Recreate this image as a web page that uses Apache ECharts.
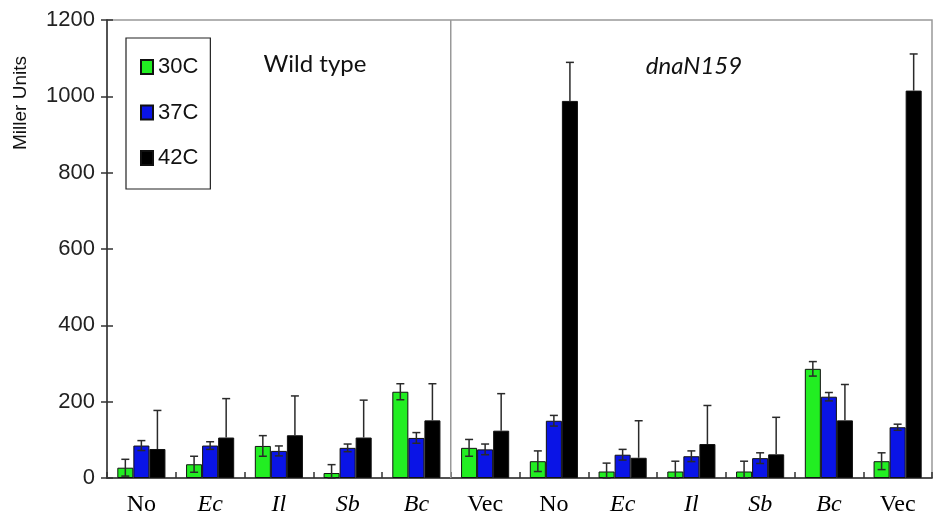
<!DOCTYPE html>
<html>
<head>
<meta charset="utf-8">
<script src="https://cdn.jsdelivr.net/npm/echarts@6/dist/echarts.min.js"></script>
<style>html,body{margin:0;padding:0;background:#fff;}#c{width:938px;height:525px;}</style>
</head>
<body>
<div id="c"></div>
<script>
// ---- data ----
var categories = ['WT-No','WT-Ec','WT-Il','WT-Sb','WT-Bc','M-Vec','M-No','M-Ec','M-Il','M-Sb','M-Bc','M-Vec2'];
var tickLabels = ['No','Ec','Il','Sb','Bc','Vec','No','Ec','Il','Sb','Bc','Vec'];
var italicLabels = [false,true,true,true,true,false,false,true,true,true,true,false];
var seriesNames = ['30C','37C','42C'];
var values30 = [27, 36, 84, 13, 226, 79, 44, 17, 17, 17, 286, 44];
var err30    = [22, 21, 27, 22, 21, 22, 27, 22, 27, 27, 19, 22];
var values37 = [85, 85, 71, 79, 105, 75, 150, 61, 57, 52, 213, 133];
var err37    = [13, 10, 13, 10, 14, 14, 14, 14, 14, 14, 11, 8];
var values42 = [76, 106, 112, 106, 151, 124, 988, 53, 89, 62, 151, 1015];
var err42    = [101, 102, 103, 98, 96, 97, 101, 97, 101, 97, 94, 96];
var yTicks = [0, 200, 400, 600, 800, 1000, 1200];
var panelSplitIndex = [5]; // first category of the dnaN159 panel

var colors = ['#22ee22', '#0a14e6', '#000000'];
var allVals = [values30, values37, values42];
var allErrs = [err30, err37, err42];

var chart = echarts.init(document.getElementById('c'), null, {renderer: 'canvas'});

var barSeries = seriesNames.map(function (n, s) {
  return {
    name: n, type: 'bar', data: allVals[s], barGap: '0%', barCategoryGap: '30%',
    itemStyle: {color: colors[s], borderColor: '#111', borderWidth: 1},
    z: 2
  };
});

function errSeries(s) {
  var data = allVals[s].map(function (v, i) {
    var e = allErrs[s][i];
    var lo = s === 2 ? v : Math.max(0, v - e);
    return [i, lo, v + e];
  });
  return {
    type: 'custom', name: 'err' + s, data: data, z: 5, silent: true,
    encode: {x: 0, y: [1, 2]},
    renderItem: function (params, api) {
      var i = api.value(0);
      var band = api.size([1, 0])[0];
      var bw = band * 0.7 / 3;
      var cx = api.coord([i, 0])[0] + (s - 1) * bw;
      var pLo = api.coord([i, api.value(1)])[1];
      var pHi = api.coord([i, api.value(2)])[1];
      var cap = 4;
      var st = {stroke: '#2a2a2a', lineWidth: 1.5};
      var ch = [
        {type: 'line', shape: {x1: cx, y1: pLo, x2: cx, y2: pHi}, style: st},
        {type: 'line', shape: {x1: cx - cap, y1: pHi, x2: cx + cap, y2: pHi}, style: st}
      ];
      if (s !== 2) {
        ch.push({type: 'line', shape: {x1: cx - cap, y1: pLo, x2: cx + cap, y2: pLo}, style: st});
      }
      return {type: 'group', children: ch};
    }
  };
}

var splitSeries = {
  type: 'custom', name: 'split', data: panelSplitIndex.map(function (i) { return [i, yTicks[0], yTicks[yTicks.length - 1]]; }),
  z: 1, silent: true, encode: {x: 0, y: [1, 2]},
  renderItem: function (params, api) {
    var i = api.value(0);
    var band = api.size([1, 0])[0];
    var x = api.coord([i, 0])[0] - band / 2;
    var y0 = api.coord([i, api.value(1)])[1];
    var y1 = api.coord([i, api.value(2)])[1];
    return {type: 'line', shape: {x1: x, y1: y0, x2: x, y2: y1}, style: {stroke: '#999', lineWidth: 1.5}};
  }
};

var option = {
  animation: false,
  backgroundColor: '#fff',
  grid: {left: 107, right: 6, top: 20, bottom: 47, show: true, borderColor: '#999', borderWidth: 1.5},
  legend: {
    data: seriesNames, orient: 'vertical', left: 126, top: 38,
    icon: 'rect', itemWidth: 12, itemHeight: 14, itemGap: 23.5,
    padding: [18, 12, 20, 14],
    borderColor: '#222', borderWidth: 1.2, backgroundColor: '#fff',
    textStyle: {fontFamily: 'Liberation Sans', fontSize: 22, color: '#111', padding: [0, 0, 0, 0]}
  },
  xAxis: {
    type: 'category', data: categories, boundaryGap: true,
    axisLine: {lineStyle: {color: '#333', width: 1.5}},
    axisTick: {show: true, inside: true, length: 6, lineStyle: {color: '#333', width: 1.5}},
    splitLine: {show: false},
    axisLabel: {
      margin: 15,
      formatter: function (v, idx) {
        return (italicLabels[idx] ? '{i|' : '{n|') + tickLabels[idx] + '}';
      },
      rich: {
        n: {fontFamily: 'Liberation Serif', fontSize: 24, color: '#000'},
        i: {fontFamily: 'Liberation Serif', fontSize: 24, fontStyle: 'italic', color: '#000'}
      }
    }
  },
  yAxis: [{
    type: 'value', min: yTicks[0], max: yTicks[yTicks.length - 1], interval: 200,
    axisLine: {show: true, lineStyle: {color: '#333', width: 1.5}},
    axisTick: {show: true, length: 6, lineStyle: {color: '#333', width: 1.5}},
    splitLine: {show: false},
    axisLabel: {margin: 12, fontFamily: 'Liberation Sans', fontSize: 22, color: '#222', formatter: function (v) { return String(v); }}
  }, {
    type: 'value', position: 'left', min: yTicks[0], max: yTicks[yTicks.length - 1], interval: 200,
    axisLine: {show: false},
    axisTick: {show: true, inside: true, length: 6, lineStyle: {color: '#333', width: 1.5}},
    splitLine: {show: false}, axisLabel: {show: false}
  }],
  graphic: [
    {type: 'text', rotation: Math.PI / 2, x: 11, y: 150, style: {text: 'Miller Units', font: '19px "Liberation Sans"', fill: '#111'}},
    {type: 'text', style: {text: 'Wild type', x: 315, y: 64, font: '24px Lato', fill: '#111', textAlign: 'center', textVerticalAlign: 'middle'}},
    {type: 'text', style: {text: 'dnaN159', x: 694, y: 66, font: 'italic 24px Lato', fill: '#111', textAlign: 'center', textVerticalAlign: 'middle'}}
  ],
  series: barSeries.concat([splitSeries, errSeries(0), errSeries(1), errSeries(2)])
};
chart.setOption(option);
</script>
</body>
</html>
